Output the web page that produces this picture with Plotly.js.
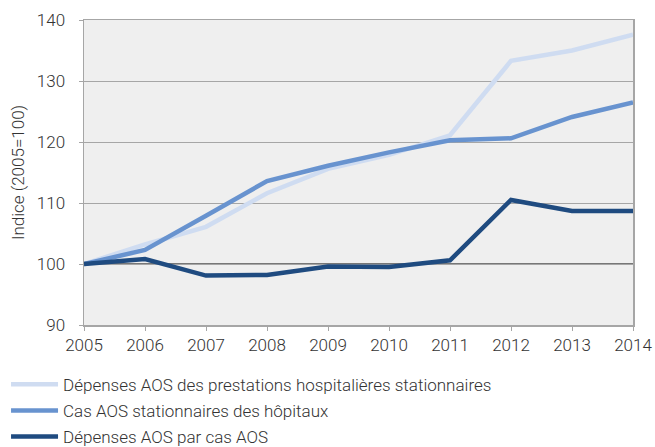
<!DOCTYPE html>
<html>
<head>
<meta charset="utf-8">
<script src="https://cdn.plot.ly/plotly-3.0.1.min.js"></script>
<style>html,body{margin:0;padding:0;background:#fff;}#chart{width:655px;height:447px;}</style>
</head>
<body>
<div id="chart"></div>
<script>
const years = [2005, 2006, 2007, 2008, 2009, 2010, 2011, 2012, 2013, 2014];
const depensesPrestations = [100, 103.2, 106.1, 111.6, 115.6, 117.9, 121.1, 133.3, 135.0, 137.6];
const casStationnaires = [100, 102.3, 107.9, 113.6, 116.1, 118.3, 120.3, 120.6, 124.1, 126.5];
const depensesParCas = [100, 100.8, 98.1, 98.2, 99.6, 99.5, 100.6, 110.5, 108.7, 108.7];
const seriesNames = [
  "Dépenses AOS des prestations hospitalières stationnaires",
  "Cas AOS stationnaires des hôpitaux",
  "Dépenses AOS par cas AOS"
];
const baseIndex = 100;

const colors = ["#cfdcf1", "#6893cf", "#1f4b80"];
const data = [depensesPrestations, casStationnaires, depensesParCas].map((v, i) => ({
  x: years, y: v, type: "scatter", mode: "lines", name: seriesNames[i],
  legendgroup: "g" + i,
  line: {color: colors[i], width: 4.5}
}));

const txt = "#333333";
const layout = {
  width: 655, height: 447,
  margin: {l: 84, r: 22, t: 20, b: 122, autoexpand: false},
  paper_bgcolor: "#ffffff",
  plot_bgcolor: "#efefef",
  font: {family: "Roboto, sans-serif", color: txt, weight: 300},
  showlegend: true,
  legend: {
    x: -0.142, y: -0.137, xanchor: "left", yanchor: "top",
    font: {size: 17, color: txt, weight: 300},
    traceorder: "grouped", tracegroupgap: 1,
    itemwidth: 47,
    bgcolor: "rgba(0,0,0,0)"
  },
  xaxis: {
    range: [2005, 2014], tickmode: "array", tickvals: years, ticktext: years.map(String),
    showgrid: false, zeroline: false,
    showline: true, mirror: true, linecolor: "#a6a6a6", linewidth: 1.5,
    ticks: "outside", ticklen: 4, tickcolor: "#a6a6a6", tickwidth: 1,
    tickfont: {size: 17, color: txt, weight: 300},
    tickangle: 0
  },
  yaxis: {
    range: [90, 140], tickmode: "array", tickvals: [90, 100, 110, 120, 130, 140],
    showgrid: true, gridcolor: "#a6a6a6", gridwidth: 1,
    zeroline: false,
    showline: true, mirror: true, linecolor: "#a6a6a6", linewidth: 1.5,
    ticks: "outside", ticklen: 4, tickcolor: "#a6a6a6",
    ticklabelstandoff: 10,
    tickfont: {size: 17, color: txt, weight: 300},
    title: {text: "Indice (2005=100)", font: {size: 17, color: txt, weight: 300}, standoff: 8}
  },
  shapes: [{
    type: "line", xref: "paper", x0: 0, x1: 1, yref: "y", y0: baseIndex, y1: baseIndex,
    line: {color: "#000000", width: 1.2}, layer: "below"
  }]
};

Plotly.newPlot("chart", data, layout, {displayModeBar: false, staticPlot: true});
</script>
</body>
</html>
